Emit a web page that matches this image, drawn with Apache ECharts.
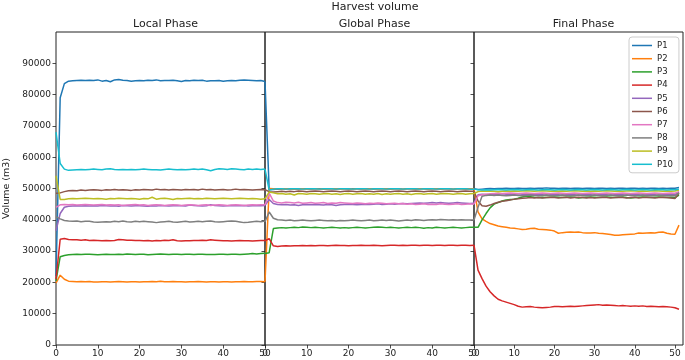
<!DOCTYPE html>
<html>
<head>
<meta charset="utf-8">
<script src="https://cdn.jsdelivr.net/npm/echarts@6/dist/echarts.min.js"></script>
<style>html,body{margin:0;padding:0;background:#fff;}#c{width:685px;height:360px;}</style>
</head>
<body>
<div id="c"></div>
<script>
const seriesNames = ['P1','P2','P3','P4','P5','P6','P7','P8','P9','P10'];
const panelTitles = ['Local Phase','Global Phase','Final Phase'];
const yTicks = [0,10000,20000,30000,40000,50000,60000,70000,80000,90000];
const xTicks = [0,10,20,30,40,50];

// Local phase (x = 0..50)
const local_P1 = [22000,79000,83500,84300,84400,84500,84600,84500,84600,84500, 84700,84300,84500,84100,84700,84800,84600,84500,84300,84400, 84500,84400,84600,84500,84700,84400,84500,84500,84600,84400, 84200,84500,84400,84600,84500,84600,84300,84400,84400,84500, 84300,84400,84500,84400,84600,84700,84600,84500,84400,84500, 84200];
const local_P2 = [19800,22300,21000,20400,20300,20200,20300,20200,20300,20100, 20100,20200,20200,20100,20200,20300,20200,20100,20200,20200, 20100,20200,20200,20300,20200,20400,20200,20200,20300,20200, 20200,20100,20200,20200,20300,20200,20100,20200,20200,20100, 20200,20200,20100,20200,20200,20300,20200,20200,20300,20300, 20200];
const local_P3 = [20500,28200,28600,28800,28900,29000,28900,29000,29000,28900, 28800,28900,29000,28900,28900,29000,28900,29100,29000,28900, 29000,29000,28800,28900,29000,29100,29000,28900,29000,29000, 28900,29000,29000,28900,29000,29000,28900,28900,28900,29000, 29000,28900,29000,29000,28900,29000,29100,29200,29100,29200, 29300];
const local_P4 = [21000,33800,34000,33700,33600,33600,33500,33600,33400,33500, 33400,33300,33400,33300,33400,33700,33600,33500,33500,33400, 33400,33300,33400,33200,33400,33300,33500,33400,33600,33300, 33200,33300,33300,33400,33400,33500,33400,33600,33500,33400, 33300,33300,33200,33300,33400,33300,33300,33200,33300,33400, 33400];
const local_P5 = [36500,42000,44000,44300,44400,44500,44400,44500,44400,44500, 44400,44600,44500,44400,44500,44300,44600,44500,44400,44500, 44500,44400,44300,44500,44400,44600,44500,44400,44500,44600, 44500,44400,44700,44600,44500,44400,44500,44800,44600,44500, 44400,44500,44600,44500,44500,44600,44400,44500,44600,44500, 44600];
const local_P6 = [48500,48600,49000,49300,49400,49300,49500,49400,49500,49600, 49500,49400,49600,49500,49700,49500,49600,49500,49400,49600, 49500,49700,49600,49500,49800,49600,49700,49500,49700,49600, 49500,49700,49600,49700,49500,49800,49600,49700,49500,49600, 49700,49500,49600,49800,49600,49700,49600,49500,49600,49700, 49600];
const local_P7 = [44000,44800,44900,44800,44900,44700,44800,44900,44800,44700, 44800,44900,44700,44800,44700,44800,44600,44700,44800,44900, 44700,44800,44600,44700,44800,44700,44600,44700,44800,44700, 44600,44700,44800,44700,44600,44700,44800,44600,44700,44800, 44700,44600,44700,44800,44700,44600,44700,44800,44700,44800, 44800];
const local_P8 = [41000,40300,39800,39600,39500,39600,39400,39500,39500,39300, 39200,39300,39400,39300,39500,39400,39600,39400,39300,39500, 39400,39500,39400,39300,39100,39300,39400,39500,39300,39200, 39400,39500,39300,39400,39500,39400,39500,39600,39400,39300, 39400,39500,39600,39500,39300,39100,39200,39400,39500,39400, 39600];
const local_P9 = [54000,46500,46500,46700,46800,46700,46800,46900,46800,46700, 46800,46700,46600,46800,46700,46900,46800,46700,46800,46700, 46600,46800,46700,47200,46600,46800,46900,46700,46500,46800, 46700,46800,46900,46700,46800,46700,46900,46800,46700,46800, 46900,46800,46700,46800,46900,46800,46700,46800,46700,46600, 46700];
const local_P10 = [68000,58000,56200,55800,55900,56000,56100,56000,56100,56200, 56100,56000,56200,56300,56100,56000,56100,56000,56100,56000, 56100,56200,56100,56000,56000,55900,56100,56200,56100,56000, 56100,56000,56100,56200,56100,56200,56000,55700,56100,56300, 56200,56100,56300,56200,56100,56000,56200,56100,56200,56100, 56200];

// Global phase (x = 0..50)
const global_P1 = [84200,49600,49700,49800,49800,49900,49800,49900,49800,49900, 49900,49800,49900,49900,49800,49900,49900,49800,49900,49900, 49800,49900,49900,49800,49900,49900,49800,49900,49900,49900, 49800,49900,49900,49800,49900,49900,49800,49900,49900,49800, 49900,49900,49800,49900,49900,49800,49900,49900,49800,49900, 49900];
const global_P2 = [20200,50000,49900,49900,49800,49900,49900,49800,49900,49900, 49800,49900,49900,49800,49900,49800,49900,49900,49800,49900, 49900,49800,49900,49900,49800,49900,49900,49800,49900,49900, 49800,49900,49900,49800,49900,49900,49800,49900,49900,49800, 49900,49900,49800,49900,49900,49800,49900,49900,49800,49900, 49900];
const global_P3 = [29200,29500,37200,37400,37500,37400,37500,37600,37500,37700, 37600,37500,37600,37500,37400,37500,37600,37500,37400,37500, 37400,37500,37600,37500,37400,37500,37600,37700,37600,37500, 37600,37500,37400,37500,37600,37500,37600,37500,37300,37500, 37400,37600,37500,37400,37500,37600,37500,37400,37500,37600, 37600];
const global_P4 = [33300,34000,31700,31500,31600,31700,31600,31700,31700,31800, 31700,31800,31700,31800,31800,31700,31800,31900,31800,31800, 31700,31800,31800,31900,31800,31800,31900,31800,31700,31800, 31900,31900,31800,31900,31800,31900,31900,31800,31900,31900, 31800,31900,31900,31800,31900,31900,31800,31900,31900,31800, 31900];
const global_P5 = [44600,46500,45200,44900,44800,44900,44700,44800,44600,44800, 44900,44800,44900,44800,44700,44900,44800,44600,44800,44900, 45000,44900,44800,44900,45000,44900,45000,45100,44900,45000, 45100,45000,45100,45200,45100,45200,45300,45400,45300,45400, 45500,45400,45500,45400,45300,45400,45500,45400,45300,45200, 45300];
const global_P6 = [49600,49000,48900,49000,49100,49000,49100,49000,49200,49100, 49000,49100,49200,49100,49000,49100,49200,49100,49000,49100, 49200,49100,49000,49100,49200,49100,49000,49100,49200,49100, 49000,49100,49200,49100,49000,49100,49200,49100,49000,49100, 49200,49100,49000,49100,49200,49100,49000,49100,49200,49100, 49100];
const global_P7 = [44800,48500,46000,45500,45400,45600,45500,45400,45600,45300, 45400,45500,45300,45400,45500,45200,45400,45300,45500,45400, 45300,45200,45400,45300,45100,45300,45200,45400,45300,45100, 45200,45300,45100,45200,45000,45100,44900,45000,45100,44900, 45000,44900,45100,45000,44900,45000,45100,44900,45000,45100, 45000];
const global_P8 = [39400,42500,40500,40000,39900,39800,39900,39700,39800,39900, 39800,39700,39800,39900,39800,39700,39800,39600,39800,39700, 39800,39900,39800,39700,39800,39900,39700,39800,39900,39800, 39900,39800,39600,39800,39900,39800,40000,39900,39800,39900, 40000,39900,40100,40000,39900,40000,39900,40000,39900,39900, 39900];
const global_P9 = [46700,48900,48600,48300,48400,48200,48300,47900,48400,48300, 48200,48400,48300,48200,48300,48400,48200,48300,48100,48300, 48400,48200,48300,48400,48200,48300,48200,48400,48100,48300, 48200,48300,48400,48200,48300,48100,48300,48400,48200,48300, 48400,48200,48300,48400,48300,48200,48300,48400,48200,48300, 48400];
const global_P10 = [56200,49500,49800,49900,49900,49800,49900,49900,49900,49800, 49900,49900,49900,49800,49900,49900,49900,49800,49900,49900, 49900,49800,49900,49900,49900,49800,49900,49900,49900,49800, 49900,49900,49900,49800,49900,49900,49900,49800,49900,49900, 49900,49800,49900,49900,49900,49800,49900,49900,49900,49800, 49800];

// Final phase (x = 0..51)
const final_P1 = [49900,49700,49800,49900,50000,49900,50000,50000,50100,50000, 50000,50100,50000,50000,50100,50000,50100,50100,50200,50100, 50100,50000,50100,50100,50000,50100,50100,50000,50100,50100, 50000,50100,50100,50000,50100,50000,50100,50100,50000,50100, 50100,50000,50100,50000,50100,50100,50000,50100,50000,50100, 50100,50300];
const final_P2 = [49900,42500,40300,39500,38800,38400,38000,37800,37600,37400, 37300,37100,36900,37000,37200,37300,37000,36900,36800,36700, 36400,35700,35900,36000,36100,36000,36100,35900,35800,35800, 35900,35700,35600,35500,35300,35100,35100,35200,35300,35400, 35500,35800,35700,35800,35900,35800,36000,36100,35700,35500, 35400,38300];
const final_P3 = [37600,37600,40000,42000,43800,45000,45500,46000,46300,46500, 46600,46900,47300,47600,47400,47200,47100,47200,47100,47200, 47300,47200,47100,47200,47300,47200,47000,47100,47200,47300, 47200,47100,47200,47300,47200,47100,47200,47300,47100,47000, 47100,47200,47300,47200,47100,47200,47300,47200,47100,47200, 47100,47900];
const final_P4 = [31900,23900,21200,18800,17000,15700,14600,14100,13700,13300, 12900,12400,12100,12200,12300,12100,12000,11900,12000,12100, 12300,12300,12200,12300,12400,12300,12400,12500,12600,12700, 12800,12900,12700,12800,12700,12600,12500,12600,12500,12400, 12500,12400,12500,12300,12400,12300,12200,12300,12200,12100, 11900,11400];
const final_P5 = [45300,48000,48200,48100,48000,48200,48100,48300,48200,48100, 48200,48300,48200,48100,48000,48200,48100,48200,48300,48200, 48100,48200,48300,48200,48100,48200,48300,48200,48100,48200, 48300,48200,48100,48200,48300,48200,48100,48200,48300,48200, 48100,48200,48300,48200,48100,48200,48300,48200,48100,48000, 48100,48800];
const final_P6 = [49100,46000,44500,44300,44700,45200,45600,45900,46100,46300, 46600,46700,46900,47000,47100,47000,47100,47000,47100,47200, 47100,47000,47100,47200,47000,47100,47200,47100,47000,47100, 47000,47100,47200,47100,47000,47100,47200,47100,47000,47100, 47200,47000,47100,47200,47100,47000,47100,47200,47100,47000, 46800,48500];
const final_P7 = [45000,47700,48000,48200,48300,48400,48500,48400,48500,48600, 48500,48400,48500,48600,48500,48400,48500,48600,48500,48400, 48500,48600,48500,48400,48500,48600,48500,48400,48500,48600, 48500,48400,48500,48600,48500,48400,48500,48600,48500,48400, 48500,48600,48500,48400,48500,48600,48500,48400,48500,48600, 48500,49000];
const final_P8 = [39900,44000,47500,47800,47900,47800,47900,47800,47700,47800, 47900,47800,47700,47800,47900,47800,47700,47800,47900,47800, 47700,47800,47900,47800,47700,47800,47900,47800,47700,47800, 47900,47800,47700,47800,47900,47800,47700,47800,47900,47800, 47700,47800,47900,47800,47700,47800,47900,47800,47700,47800, 47700,48600];
const final_P9 = [48400,49000,49200,49100,49200,49100,49000,49100,49200,49100, 49200,49100,49200,49300,49200,49100,49200,49300,49200,49100, 49200,49100,49200,49100,49200,49300,49200,49100,49200,49100, 49200,49100,49200,49300,49200,49100,49200,49100,49200,49300, 49200,49100,49200,49100,49200,49300,49200,49100,49200,49100, 49200,49500];
const final_P10 = [49800,49600,49500,49600,49500,49600,49700,49600,49500,49600, 49700,49600,49500,49600,49700,49600,49500,49600,49700,49600, 49500,49600,49700,49600,49500,49600,49700,49600,49500,49600, 49700,49600,49500,49600,49700,49600,49500,49600,49700,49600, 49500,49600,49700,49600,49500,49600,49700,49600,49500,49600, 49600,49800];

const panels = [
  [local_P1,local_P2,local_P3,local_P4,local_P5,local_P6,local_P7,local_P8,local_P9,local_P10],
  [global_P1,global_P2,global_P3,global_P4,global_P5,global_P6,global_P7,global_P8,global_P9,global_P10],
  [final_P1,final_P2,final_P3,final_P4,final_P5,final_P6,final_P7,final_P8,final_P9,final_P10]
];
const colors = ['#1f77b4','#ff7f0e','#2ca02c','#d62728','#9467bd','#8c564b','#e377c2','#7f7f7f','#bcbd22','#17becf'];

const FONT = 'DejaVu Sans';
const gridLefts = [56, 265, 474];
const gridW = 209;
const xMax = [50, 50, 52];

const grids = gridLefts.map(l => ({left: l, top: 32, width: gridW, height: 313, show: true, borderColor: '#222', borderWidth: 1, backgroundColor: 'transparent'}));
const xAxes = gridLefts.map((l, i) => ({
  type: 'value', gridIndex: i, min: 0, max: xMax[i], interval: 10,
  splitLine: {show: false},
  axisLine: {show: false},
  axisTick: {show: true, length: 3.5, inside: false, lineStyle: {color: '#222', width: 0.8}, customValues: xTicks},
  axisLabel: {show: true, margin: 4, fontFamily: FONT, fontSize: 9, color: '#222', customValues: xTicks, formatter: v => String(v)}
}));
const yAxes = gridLefts.map((l, i) => ({
  type: 'value', gridIndex: i, min: 0, max: 100000, interval: 10000,
  splitLine: {show: false},
  axisLine: {show: false},
  axisTick: {show: true, length: 3.5, lineStyle: {color: '#222', width: 0.8}, customValues: yTicks},
  axisLabel: {show: i === 0, margin: 5, fontFamily: FONT, fontSize: 9, color: '#222', customValues: yTicks, formatter: v => String(v)},
  name: i === 0 ? 'Volume (m3)' : '',
  nameLocation: 'middle', nameRotate: 90, nameGap: 44,
  nameTextStyle: {fontFamily: FONT, fontSize: 9.5, color: '#222'}
}));

const series = [];
panels.forEach((arrs, p) => {
  arrs.forEach((arr, k) => {
    series.push({
      type: 'line', name: seriesNames[k], xAxisIndex: p, yAxisIndex: p,
      data: arr.map((v, i) => [i, v]),
      symbol: 'none', showSymbol: false, smooth: false,
      lineStyle: {color: colors[k], width: 1.5},
      itemStyle: {color: colors[k]},
      z: 2 + k, animation: false
    });
  });
});

const titles = [{text: 'Harvest volume', left: 370, top: -3, textAlign: 'center', textStyle: {fontFamily: FONT, fontSize: 11, fontWeight: 'normal', color: '#222'}}];
panelTitles.forEach((t, i) => titles.push({text: t, left: gridLefts[i] + gridW / 2, top: 14, textAlign: 'center', textStyle: {fontFamily: FONT, fontSize: 11, fontWeight: 'normal', color: '#222'}}));

const chart = echarts.init(document.getElementById('c'), null, {renderer: 'canvas'});
chart.setOption({
  animation: false,
  backgroundColor: '#fff',
  color: colors,
  title: titles,
  grid: grids,
  xAxis: xAxes,
  yAxis: yAxes,
  legend: {
    data: seriesNames, orient: 'vertical', left: 629, top: 37,
    itemWidth: 20, itemHeight: 8, itemGap: 4.2,
    padding: [4, 6, 4, 3],
    borderColor: '#ccc', borderWidth: 1, borderRadius: 3, backgroundColor: 'rgba(255,255,255,0.8)',
    textStyle: {fontFamily: FONT, fontSize: 8.5, color: '#222', padding: [0,0,0,0]},
    icon: 'path://M0,0 L20,0 L20,1.5 L0,1.5 Z'
  },
  series: series
});
</script>
</body>
</html>
